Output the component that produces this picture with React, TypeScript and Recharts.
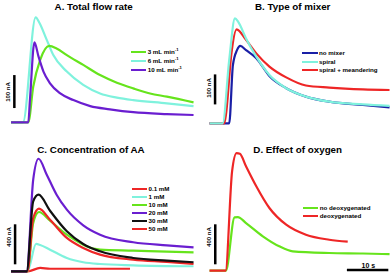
import React from "react"
import { LineChart, Line, XAxis, YAxis, ReferenceLine } from "recharts"

// time in s, current in nA
const flow3mL = [[0, 0], [4.2, 0], [5.4, 112], [7.1, 197], [9.3, 241], [11.1, 233], [13.6, 212], [17.6, 181], [21.7, 149], [25.8, 125], [29.8, 107], [33.9, 91], [38.0, 81], [44.5, 63]]
const flow6mL = [[0, 0], [2.9, 0], [6.0, 331], [6.9, 314], [8.7, 260], [10.3, 212], [13.6, 160], [17.6, 118], [21.7, 91], [25.8, 78], [29.8, 70], [38.0, 60], [44.5, 51]]
const flow10mL = [[0, 0], [4.2, 0], [4.6, 70], [5.7, 252], [6.7, 207], [7.9, 160], [9.5, 123], [12.0, 91], [15.2, 70], [19.3, 51], [24.1, 41], [29.8, 32], [38.0, 26], [44.5, 23]]

const noMixer = [[0.6, 0], [5.4, 0], [6.3, 194], [7.3, 244], [8.1, 258], [9.5, 244], [12.0, 217], [15.2, 158], [19.3, 117], [24.1, 89], [29.8, 72], [38.0, 61], [44.5, 53]]
const spiral = [[0.6, 0], [3.8, 0], [5.4, 211], [6.8, 350], [7.6, 338], [9.5, 283], [12.0, 222], [15.2, 161], [19.3, 117], [24.1, 89], [29.8, 72], [38.0, 63], [44.5, 58]]
const spiralMeander = [[0.6, 0], [4.2, 0], [4.6, 28], [5.9, 228], [7.2, 313], [9.5, 278], [12.0, 233], [15.2, 189], [19.3, 153], [24.1, 126], [29.8, 119], [38.0, 113], [44.5, 111]]

const aa01 = [[0, 0], [4.1, 0], [7.1, 34], [9.5, 26], [29.0, 26]]
const aa1 = [[0, 0], [4.0, 0], [6.1, 278], [7.1, 268], [9.5, 220], [13.6, 135], [17.6, 92], [21.7, 74], [29.8, 61], [44.5, 51]]
const aa10 = [[0, 0], [4.0, 0], [5.4, 491], [6.8, 603], [9.5, 515], [13.6, 372], [17.6, 271], [20.1, 230], [21.7, 220], [29.8, 210], [38.0, 199], [44.5, 193]]
const aa20 = [[0, 0], [3.8, 0], [5.4, 932], [6.7, 1145], [8.7, 983], [11.1, 779], [13.6, 627], [17.6, 468], [21.7, 372], [29.8, 295], [38.0, 264], [44.5, 244]]
const aa30 = [[0, 0], [3.8, 0], [5.4, 712], [6.7, 779], [9.5, 616], [13.6, 407], [17.6, 278], [21.7, 203], [29.8, 135], [38.0, 108], [44.5, 92]]
const aa50 = [[0, 0], [4.0, 0], [5.4, 542], [6.8, 637], [9.5, 525], [13.6, 339], [17.6, 237], [21.7, 169], [29.8, 118], [38.0, 95], [44.5, 74]]

const noDeox = [[0.6, 0], [4.6, 0], [6.7, 543], [7.5, 546], [9.5, 485], [13.6, 350], [17.6, 248], [20.9, 197], [29.8, 180], [38.0, 175], [44.5, 168]]
const deox = [[0.6, 0], [4.5, 0], [6.1, 1011], [7.2, 1197], [8.0, 1190], [9.5, 1062], [12.0, 859], [15.2, 638], [19.3, 468], [24.1, 366], [29.8, 315], [34.3, 295]]

const titles = ["A. Total flow rate", "B. Type of mixer", "C. Concentration of AA", "D. Effect of oxygen"]
const barLabels = ["100 nA", "100 nA", "400 nA", "400 nA"]
const timeBarLabel = "10 s"

const GREEN = "#66e41c"
const CYAN = "#7ff2dd"
const PURPLE = "#6a1ed0"
const NAVY = "#1a1fa6"
const RED = "#ee2626"
const BLACK = "#111111"

const X_DOMAIN = [-2.7, 45.1]
const FONT = "'Liberation Sans', Arial, sans-serif"

const toPoints = (d: number[][]) => d.map(([t, v]) => ({ t, v }))

type Series = { name: string; data: number[][]; color: string; sup?: boolean }

function Panel({ left, top, yDomain, series, legendOrder, bar, timeBar, title, titleX, titleY, barLabel, labelX, labelY, legendX, legendY, rowGap }: any) {
  return (
    <div style={{ position: "absolute", left, top, width: 196, height: 138 }}>
      <LineChart width={196} height={138} margin={{ top: 0, right: 0, bottom: 0, left: 0 }}>
        <XAxis type="number" dataKey="t" domain={X_DOMAIN} hide allowDataOverflow />
        <YAxis type="number" dataKey="v" domain={yDomain} hide allowDataOverflow />
        {series.map((s: Series) => (
          <Line
            key={s.name}
            data={toPoints(s.data)}
            dataKey="v"
            type="monotone"
            stroke={s.color}
            strokeWidth={2.2}
            dot={false}
            activeDot={false}
            isAnimationActive={false}
          />
        ))}
        <ReferenceLine segment={[{ x: bar.t, y: bar.from }, { x: bar.t, y: bar.to }]} stroke="#000" strokeWidth={2.5} />
        {timeBar && (
          <ReferenceLine segment={[{ x: timeBar.from, y: timeBar.v }, { x: timeBar.to, y: timeBar.v }]} stroke="#000" strokeWidth={2.5} />
        )}
      </LineChart>
      <div style={{ position: "absolute", left: titleX, top: titleY, transform: "translate(-50%,-50%)", fontFamily: FONT, fontWeight: "bold", fontSize: 9.8, whiteSpace: "nowrap" }}>
        {title}
      </div>
      <div style={{ position: "absolute", left: labelX, top: labelY, transform: "translate(-50%,-50%) rotate(-90deg)", fontFamily: FONT, fontWeight: "bold", fontSize: 6, whiteSpace: "nowrap" }}>
        {barLabel}
      </div>
      {timeBar && (
        <div style={{ position: "absolute", left: timeBar.labelX, top: timeBar.labelY, transform: "translate(-50%,-50%)", fontFamily: FONT, fontWeight: "bold", fontSize: 7, whiteSpace: "nowrap" }}>
          {timeBarLabel}
        </div>
      )}
      {legendOrder.map((s: Series, i: number) => (
        <div key={s.name} style={{ position: "absolute", left: legendX, top: legendY + i * rowGap, height: 0 }}>
          <div style={{ position: "absolute", left: 0, top: -1, width: 15.5, height: 2, background: s.color }} />
          <div style={{ position: "absolute", left: 17, top: 0, transform: "translateY(-50%)", fontFamily: FONT, fontWeight: "bold", fontSize: 6.2, whiteSpace: "nowrap", lineHeight: 1 }}>
            {s.name}
            {s.sup && <sup style={{ fontSize: 4.2, verticalAlign: 3 }}>-1</sup>}
          </div>
        </div>
      ))}
    </div>
  )
}

export default function App() {
  const flowSeries: Series[] = [
    { name: "3 mL min", data: flow3mL, color: GREEN, sup: true },
    { name: "6 mL min", data: flow6mL, color: CYAN, sup: true },
    { name: "10 mL min", data: flow10mL, color: PURPLE, sup: true },
  ]
  const mixerSeries: Series[] = [
    { name: "no mixer", data: noMixer, color: NAVY },
    { name: "spiral", data: spiral, color: CYAN },
    { name: "spiral + meandering", data: spiralMeander, color: RED },
  ]
  const aaSeries: Series[] = [
    { name: "0.1 mM", data: aa01, color: RED },
    { name: "1 mM", data: aa1, color: CYAN },
    { name: "10 mM", data: aa10, color: GREEN },
    { name: "20 mM", data: aa20, color: PURPLE },
    { name: "30 mM", data: aa30, color: BLACK },
    { name: "50 mM", data: aa50, color: RED },
  ]
  const oxSeries: Series[] = [
    { name: "no deoxygenated", data: noDeox, color: GREEN },
    { name: "deoxygenated", data: deox, color: RED },
  ]

  return (
    <div style={{ position: "absolute", left: 0, top: 0, width: 392, height: 276, background: "#fff", overflow: "hidden" }}>
      <Panel
        left={0} top={0} yDomain={[-49.5, 385.8]}
        series={[flowSeries[1], flowSeries[0], flowSeries[2]]} legendOrder={flowSeries}
        bar={{ t: 0.8, from: 45, to: 149 }}
        title={titles[0]} titleX={93.7} titleY={6}
        barLabel={barLabels[0]} labelX={7.5} labelY={92}
        legendX={130.7} legendY={52.3} rowGap={8.8}
      />
      <Panel
        left={196} top={0} yDomain={[-49, 411]}
        series={[mixerSeries[0], mixerSeries[2], mixerSeries[1]]} legendOrder={mixerSeries}
        bar={{ t: 1.95, from: 63, to: 163 }}
        title={titles[1]} titleX={96.7} titleY={6}
        barLabel={barLabels[1]} labelX={13.3} labelY={87.5}
        legendX={106} legendY={53.3} rowGap={8.4}
      />
      <Panel
        left={0} top={138} yDomain={[-48, 1356]}
        series={[aaSeries[0], aaSeries[1], aaSeries[2], aaSeries[5], aaSeries[3], aaSeries[4]]} legendOrder={aaSeries}
        bar={{ t: 0.98, from: 71, to: 478 }}
        title={titles[2]} titleX={91} titleY={11}
        barLabel={barLabels[2]} labelX={9.3} labelY={99}
        legendX={131.5} legendY={50.5} rowGap={8.1}
      />
      <Panel
        left={196} top={138} yDomain={[-54, 1350]}
        series={oxSeries} legendOrder={oxSeries}
        bar={{ t: 2.0, from: 65, to: 472 }}
        timeBar={{ from: 34.1, to: 44.2, v: 7, labelX: 172.3, labelY: 127 }}
        title={titles[3]} titleX={101.7} titleY={11}
        barLabel={barLabels[3]} labelX={13.3} labelY={99}
        legendX={106.7} legendY={70} rowGap={7.7}
      />
    </div>
  )
}
